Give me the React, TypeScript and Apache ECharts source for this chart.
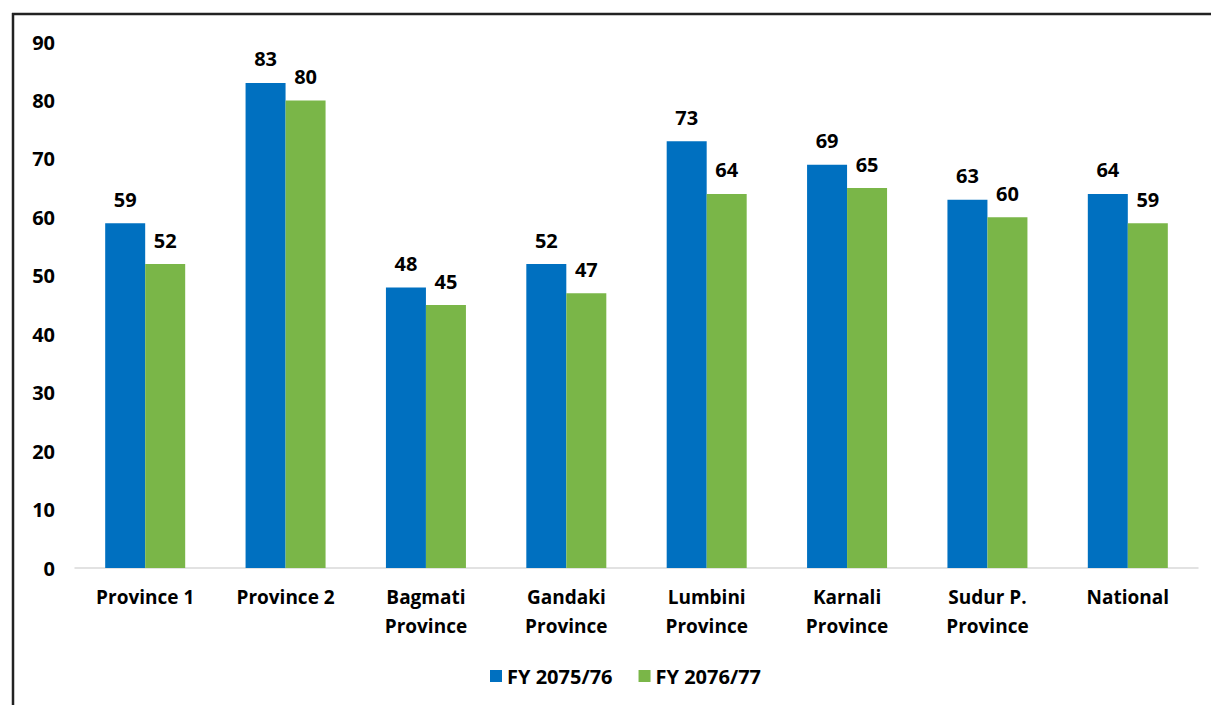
import React, { useEffect, useRef } from "react";
import * as echarts from "echarts";

const categories = [
  "Province 1",
  "Province 2",
  "Bagmati\nProvince",
  "Gandaki\nProvince",
  "Lumbini\nProvince",
  "Karnali\nProvince",
  "Sudur P.\nProvince",
  "National",
];
const seriesNames = ["FY 2075/76", "FY 2076/77"];
const fy7576 = [59, 83, 48, 52, 73, 69, 63, 64];
const fy7677 = [52, 80, 45, 47, 64, 65, 60, 59];
const colors = ["#0070C0", "#7AB648"];

const FONT = "'Open Sans', sans-serif";

export default function App() {
  const ref = useRef<HTMLDivElement>(null);
  useEffect(() => {
    if (!ref.current) return;
    const chart = echarts.init(ref.current, undefined, { renderer: "svg" });
    const labelStyle = {
      show: true,
      position: "top" as const,
      distance: 14,
      fontFamily: FONT,
      fontWeight: "bold" as const,
      fontSize: 20,
      color: "#000",
    };
    chart.setOption({
      animation: false,
      backgroundColor: "#fff",
      textStyle: { fontFamily: FONT },
      grid: { left: 75, right: 13, top: 42, bottom: 137, containLabel: false },
      legend: {
        left: 485,
        top: 661,
        itemWidth: 12,
        itemHeight: 12,
        itemGap: 26,
        icon: "rect",
        textStyle: { fontFamily: FONT, fontWeight: "bold", fontSize: 20, color: "#000" },
        data: seriesNames,
      },
      xAxis: {
        type: "category",
        data: categories,
        axisLine: { lineStyle: { color: "#d9d9d9", width: 1.5 } },
        axisTick: { show: false },
        axisLabel: {
          fontFamily: FONT,
          fontWeight: "bold",
          fontSize: 19,
          color: "#000",
          lineHeight: 29,
          margin: 14,
          interval: 0,
        },
      },
      yAxis: {
        type: "value",
        min: 0,
        max: 90,
        interval: 10,
        splitLine: { show: false },
        axisLine: { show: false },
        axisTick: { show: false },
        axisLabel: {
          fontFamily: FONT,
          fontWeight: "bold",
          fontSize: 20,
          color: "#000",
          margin: 20,
        },
      },
      series: [
        {
          name: seriesNames[0],
          type: "bar",
          data: fy7576,
          barWidth: 40,
          barGap: "0%",
          itemStyle: { color: colors[0] },
          label: labelStyle,
        },
        {
          name: seriesNames[1],
          type: "bar",
          data: fy7677,
          barWidth: 40,
          barGap: "0%",
          itemStyle: { color: colors[1] },
          label: labelStyle,
        },
      ],
      graphic: [
        {
          type: "line",
          shape: { x1: 12, y1: 14, x2: 1211, y2: 14 },
          style: { stroke: "#222", lineWidth: 2.5 },
        },
        {
          type: "line",
          shape: { x1: 13, y1: 13, x2: 13, y2: 705 },
          style: { stroke: "#222", lineWidth: 2.5 },
        },
      ],
    });
    return () => chart.dispose();
  }, []);
  return (
    <div
      ref={ref}
      style={{ position: "fixed", left: 0, top: 0, width: 1211, height: 705 }}
    />
  );
}
